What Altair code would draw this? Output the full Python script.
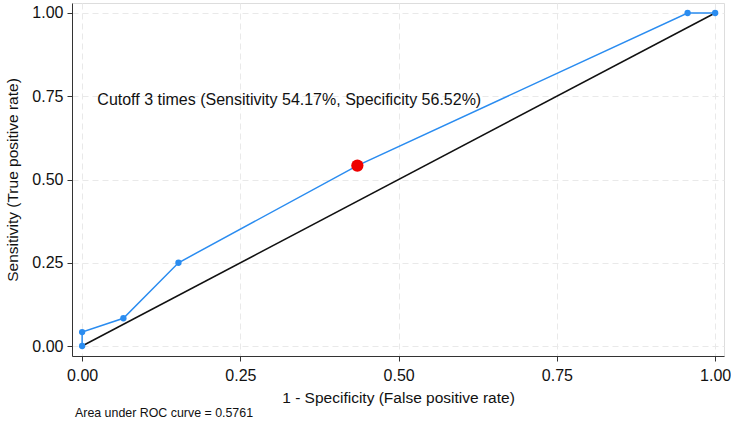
import altair as alt
import pandas as pd

fpr = [0.0, 0.0, 0.0652, 0.1522, 0.4348, 0.9565, 1.0]
tpr = [0.0, 0.0417, 0.0833, 0.25, 0.5417, 1.0, 1.0]
cut_x = [0.4348]
cut_y = [0.5417]
ref_line = [0.0, 1.0]
ticks = [0.0, 0.25, 0.5, 0.75, 1.0]
annotation = "Cutoff 3 times (Sensitivity 54.17%, Specificity 56.52%)"
ann_x = [0.024]
ann_y = [0.74]
footnote = "Area under ROC curve = 0.5761"

roc = pd.DataFrame({"fpr": fpr, "tpr": tpr})
diag = pd.DataFrame({"fpr": ref_line, "tpr": ref_line})
cut = pd.DataFrame({"fpr": cut_x, "tpr": cut_y})
ann = pd.DataFrame({"fpr": ann_x, "tpr": ann_y, "t": [annotation]})
foot = pd.DataFrame({"t": [footnote]})

xs = alt.Scale(domain=[-0.016, 1.014], nice=False, zero=False)
ys = alt.Scale(domain=[-0.03, 1.03], nice=False, zero=False)

common = dict(grid=True, gridDash=[6, 4], gridColor="#E9E9E9", domainColor="#333333",
              tickColor="#333333", tickSize=5, labelFontSize=16, titleFontSize=15.5,
              labelFont="Arial", titleFont="Arial", labelColor="#111111", titleColor="#111111",
              titleFontWeight="normal", values=ticks, format=".2f")
xax = alt.Axis(title="1 - Specificity (False positive rate)", labelPadding=6, titlePadding=7, **common)
yax = alt.Axis(title="Sensitivity (True positive rate)", labelPadding=4, titlePadding=11, **common)

X = alt.X("fpr:Q", scale=xs, axis=xax)
Y = alt.Y("tpr:Q", scale=ys, axis=yax)

diag_l = alt.Chart(diag).mark_line(color="#111111", strokeWidth=1.5).encode(x=X, y=Y)
roc_l = alt.Chart(roc).mark_line(color="#2A8CF0", strokeWidth=1.5).encode(x=X, y=Y, order="tpr:Q")
roc_p = alt.Chart(roc).mark_point(filled=True, color="#2A8CF0", size=40, opacity=1).encode(x=X, y=Y)
cut_p = alt.Chart(cut).mark_point(filled=True, color="#EE0000", size=150, opacity=1).encode(x=X, y=Y)
ann_t = alt.Chart(ann).mark_text(align="left", baseline="middle", fontSize=16, font="Arial",
                                 color="#111111").encode(x=X, y=Y, text="t:N")
foot_t = alt.Chart(foot).mark_text(align="left", baseline="middle", fontSize=12.4, font="Arial",
                                   color="#111111").encode(x=alt.value(3), y=alt.value(410), text="t:N")

chart = (diag_l + roc_l + roc_p + cut_p + ann_t + foot_t).properties(
    width=652, height=353,
    autosize=alt.AutoSizeParams(type="none"),
    padding={"left": 72, "top": 3, "right": 7, "bottom": 67},
).configure_view(stroke=None).configure(background="white")

chart.save("out.html", embed_options={"renderer": "svg", "actions": False})
